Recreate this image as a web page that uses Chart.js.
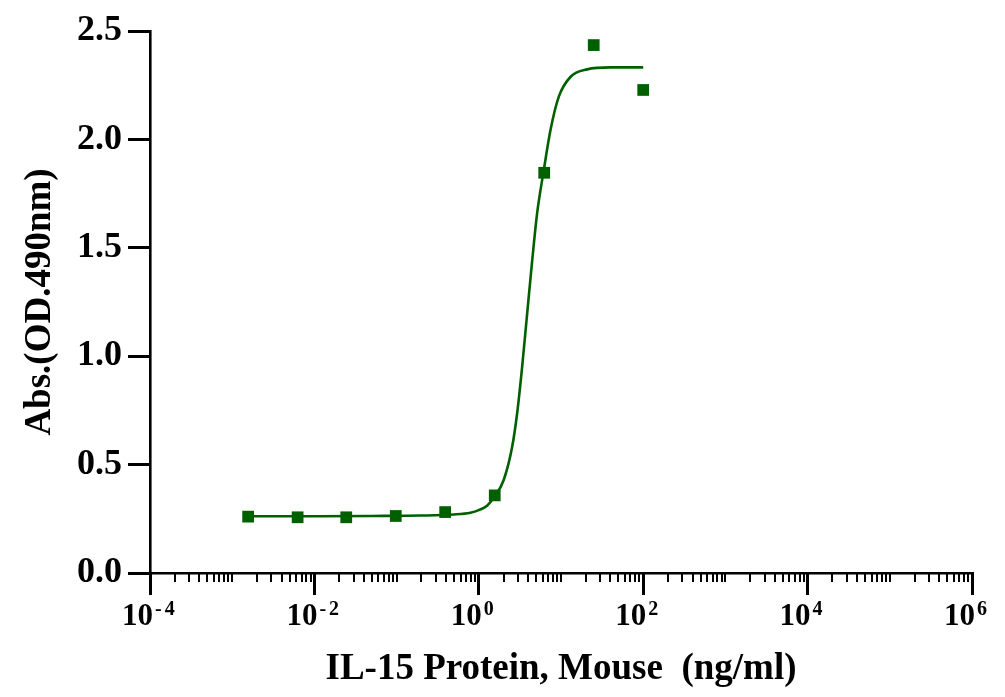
<!DOCTYPE html>
<html><head><meta charset="utf-8">
<script src="https://cdn.jsdelivr.net/npm/chart.js@4.4.0/dist/chart.umd.min.js"></script>
<style>html,body{margin:0;padding:0;background:#fff;overflow:hidden}#wrap{width:1005px;height:697px;position:relative}</style>
</head><body><div id="wrap"><canvas id="c"></canvas></div>
<script>
// measured points (ng/ml vs OD490)
const concentrations = [0.0015625, 0.00625, 0.0244, 0.0977, 0.39, 1.5625, 6.25, 25, 100];
const absorbance     = [0.260, 0.257, 0.257, 0.263, 0.281, 0.358, 1.846, 2.435, 2.228];
// fitted curve
const fitX = [0.0015625, 0.01, 0.05, 0.2, 0.5, 0.79, 1.0, 1.26, 1.52, 2.01, 2.55, 2.93, 3.37, 3.88, 4.47, 5.13, 6.18, 7.45, 9.4, 13.1, 20.8, 40, 100];
const fitY = [0.262, 0.262, 0.263, 0.265, 0.270, 0.278, 0.290, 0.310, 0.348, 0.429, 0.583, 0.738, 0.952, 1.199, 1.444, 1.661, 1.859, 2.043, 2.197, 2.289, 2.323, 2.332, 2.332];
// x tick labels: 10 raised to these exponents
const xMajorTicks = [1e-4, 1e-2, 1, 1e2, 1e4, 1e6];
const xTickBase = '10';
const xTickExponents = ['-4', '-2', '0', '2', '4', '6'];
const yTicks = [0, 0.5, 1.0, 1.5, 2.0, 2.5];
const xTitle = 'IL-15 Protein, Mouse  (ng/ml)';
const yTitle = 'Abs.(OD.490nm)';

const GREEN = '#006000';
const FONT = '"Liberation Serif", "Times New Roman", serif';
const TICK_W = 3, MAJOR_LEN = 22, MINOR_LEN = 9;

const axisDecor = {
  id: 'axisDecor',
  afterDraw(chart) {
    const xs = chart.scales.x, ys = chart.scales.y, ctx = chart.ctx, ca = chart.chartArea;
    ctx.save();
    ctx.fillStyle = '#000';
    // minor x ticks
    for (let n = -4; n < 6; n++) {
      for (let k = 1; k < 10; k++) {
        if (k === 1 && n % 2 === 0) continue;
        const px = xs.getPixelForValue(k * Math.pow(10, n));
        ctx.fillRect(Math.round(px) - 1, ca.bottom, 2, MINOR_LEN);
      }
    }
    // major ticks
    for (let i = 0; i < xMajorTicks.length; i++) {
      const px = xs.getPixelForValue(xMajorTicks[i]);
      ctx.fillRect(Math.round(px - TICK_W / 2), ca.bottom - 1, TICK_W, MAJOR_LEN + 1);
    }
    for (let i = 0; i < yTicks.length; i++) {
      const py = ys.getPixelForValue(yTicks[i]);
      ctx.fillRect(ca.left - MAJOR_LEN, Math.round(py - TICK_W / 2), MAJOR_LEN + 1, TICK_W);
    }
    // x tick labels 10^n
    ctx.textBaseline = 'alphabetic';
    ctx.textAlign = 'left';
    const baseFont = 'bold 31px ' + FONT, expFont = 'bold 20px ' + FONT;
    for (let i = 0; i < xMajorTicks.length; i++) {
      const px = xs.getPixelForValue(xMajorTicks[i]);
      ctx.font = baseFont;
      const wb = ctx.measureText(xTickBase).width;
      const fieldW = 23, gap = 2;
      const x0 = px - (wb + gap + fieldW) / 2;
      ctx.fillText(xTickBase, x0, 625);
      ctx.font = expFont;
      let ex = x0 + wb + gap;
      const e = xTickExponents[i];
      if (e.startsWith('-')) {
        ctx.fillText('-', ex, 615);
        ex += ctx.measureText('-').width + 3;
        ctx.fillText(e.slice(1), ex, 615);
      } else {
        ctx.fillText(e, ex, 615);
      }
    }
    ctx.restore();
  }
};

new Chart(document.getElementById('c'), {
  data: {
    datasets: [
      {type: 'scatter', data: concentrations.map((x, i) => ({x, y: absorbance[i]})), pointStyle: 'rect', pointRadius: 8.3, pointBackgroundColor: GREEN, pointBorderWidth: 0, showLine: false},
      {type: 'line', data: fitX.map((x, i) => ({x, y: fitY[i]})), borderColor: GREEN, borderWidth: 2.6, pointRadius: 0, fill: false, cubicInterpolationMode: 'monotone'}
    ]
  },
  options: {
    responsive: true, maintainAspectRatio: false, animation: false, devicePixelRatio: 1,
    layout: {padding: {left: 18, top: 31, right: 33, bottom: 5}},
    plugins: {legend: {display: false}, tooltip: {enabled: false}},
    scales: {
      x: {
        type: 'logarithmic', min: 1e-4, max: 1e6,
        afterBuildTicks: s => { s.ticks = xMajorTicks.map(v => ({value: v, major: true})); },
        afterFit: s => { s.height = 119; },
        grid: {drawOnChartArea: false, drawTicks: true, tickLength: MAJOR_LEN, color: 'rgba(0,0,0,0)', tickColor: 'rgba(0,0,0,0)'},
        border: {display: true, color: '#000', width: 2.6},
        ticks: {display: false},
        title: {display: true, text: xTitle, color: '#000', font: {family: FONT, size: 37, weight: 'bold'}, padding: 0}
      },
      y: {
        min: 0, max: 2.5,
        afterBuildTicks: s => { s.ticks = yTicks.map(v => ({value: v})); },
        afterFit: s => { s.width = 132; },
        grid: {drawOnChartArea: false, drawTicks: true, tickLength: MAJOR_LEN, color: 'rgba(0,0,0,0)', tickColor: 'rgba(0,0,0,0)'},
        border: {display: true, color: '#000', width: 2.6},
        ticks: {padding: 6, color: '#000', font: {family: FONT, size: 36, weight: 'bold'}, callback: v => Number(v).toFixed(1)},
        title: {display: true, text: yTitle, color: '#000', font: {family: FONT, size: 37, weight: 'bold'}, padding: 0}
      }
    }
  },
  plugins: [axisDecor]
});
</script>
</body></html>
